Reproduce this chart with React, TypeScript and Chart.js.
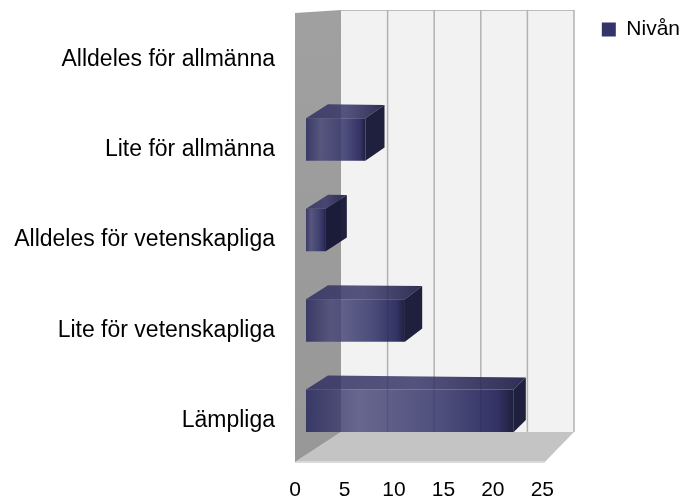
import React, { useEffect, useRef } from "react";
import { Chart, registerables } from "chart.js";

Chart.register(...registerables);

// ---- data ----
const categories = [
  "Alldeles för allmänna",
  "Lite för allmänna",
  "Alldeles för vetenskapliga",
  "Lite för vetenskapliga",
  "Lämpliga",
];
const nivanValues = [0, 6, 2, 10, 21];
const tickValues = [0, 5, 10, 15, 20, 25];
const seriesName = "Nivån";

// ---- styling ----
const LEGEND_COLOR = "#34346a";
const FONT = "'Liberation Sans', Arial, sans-serif";
const BAR_SHIFT_X = 11;
const BAR_SHIFT_Y = -10;

const depthOffset = (px: number, x0: number) => ({
  dx: 22 - 0.048 * (px - x0),
  dy: -14 + 0.0096 * (px - x0),
});

const wallsPlugin = {
  id: "walls3d",
  beforeDraw(chart: any) {
    const { ctx, chartArea: a, scales } = chart;
    const x = scales.x;
    if (!x) return;
    const f0 = x.getPixelForValue(0);
    const fMax = x.getPixelForValue(tickValues[tickValues.length - 1]);
    const backX = (v: number) => f0 + 46 + (x.getPixelForValue(v) - f0) * 0.942;
    const backTop = a.top - 4;
    const floorBack = a.bottom - 34;
    const floorFront = a.bottom - 4;
    const b0 = backX(0);
    const bMax = backX(tickValues[tickValues.length - 1]);
    const frontRight = f0 + (fMax - f0) * 1.01;

    ctx.save();
    // back wall
    ctx.fillStyle = "#f2f2f2";
    ctx.fillRect(b0, backTop, bMax - b0, floorBack - backTop);
    ctx.strokeStyle = "#bcbcbc";
    ctx.lineWidth = 1;
    ctx.beginPath();
    ctx.moveTo(b0, backTop + 0.5);
    ctx.lineTo(bMax, backTop + 0.5);
    ctx.stroke();
    // gridlines on back wall
    ctx.strokeStyle = "#b2b2b2";
    ctx.lineWidth = 1.5;
    tickValues.forEach((v) => {
      if (v === 0) return;
      const bx = backX(v);
      ctx.beginPath();
      ctx.moveTo(bx, backTop);
      ctx.lineTo(bx, floorBack);
      ctx.stroke();
    });
    // floor
    ctx.fillStyle = "#c4c4c4";
    ctx.beginPath();
    ctx.moveTo(b0, floorBack);
    ctx.lineTo(bMax, floorBack);
    ctx.lineTo(frontRight, floorFront);
    ctx.lineTo(f0, floorFront);
    ctx.closePath();
    ctx.fill();
    ctx.strokeStyle = "#dadada";
    ctx.lineWidth = 2;
    ctx.beginPath();
    ctx.moveTo(f0, floorFront);
    ctx.lineTo(frontRight, floorFront);
    ctx.stroke();
    // side wall
    const g = ctx.createLinearGradient(0, backTop, 0, floorFront);
    g.addColorStop(0, "#a0a0a0");
    g.addColorStop(1, "#979797");
    ctx.fillStyle = g;
    ctx.beginPath();
    ctx.moveTo(f0, backTop + 3);
    ctx.lineTo(b0, backTop);
    ctx.lineTo(b0, floorBack);
    ctx.lineTo(f0, floorFront);
    ctx.closePath();
    ctx.fill();
    ctx.restore();
  },
  beforeDatasetsDraw(chart: any) {
    chart.ctx.save();
    chart.ctx.translate(BAR_SHIFT_X, BAR_SHIFT_Y);
  },
  afterDatasetsDraw(chart: any) {
    const ctx = chart.ctx;
    const meta = chart.getDatasetMeta(0);
    meta.data.forEach((bar: any) => {
      const { x: x1, y, base: x0, height } = bar.getProps(["x", "y", "base", "height"], true);
      if (x1 - x0 < 0.5) return;
      const yT = y - height / 2;
      const yB = y + height / 2;
      const o0 = depthOffset(x0, x0);
      const o1 = depthOffset(x1, x0);
      // top face
      const tg = ctx.createLinearGradient(x0, 0, x1 + o1.dx, 0);
      tg.addColorStop(0, "rgba(48,48,98,0.85)");
      tg.addColorStop(0.5, "rgba(55,55,105,0.85)");
      tg.addColorStop(1, "rgba(30,30,72,0.92)");
      ctx.fillStyle = tg;
      ctx.beginPath();
      ctx.moveTo(x0, yT);
      ctx.lineTo(x1, yT);
      ctx.lineTo(x1 + o1.dx, yT + o1.dy);
      ctx.lineTo(x0 + o0.dx, yT + o0.dy);
      ctx.closePath();
      ctx.fill();
      // side face
      ctx.fillStyle = "rgba(22,22,54,0.96)";
      ctx.beginPath();
      ctx.moveTo(x1, yT);
      ctx.lineTo(x1 + o1.dx, yT + o1.dy);
      ctx.lineTo(x1 + o1.dx, yB + o1.dy);
      ctx.lineTo(x1, yB);
      ctx.closePath();
      ctx.fill();
    });
    ctx.restore();
  },
};

export default function App() {
  const canvasRef = useRef<HTMLCanvasElement | null>(null);

  useEffect(() => {
    const canvas = canvasRef.current;
    if (!canvas) return;
    const chart = new Chart(canvas, {
      type: "bar",
      data: {
        labels: categories,
        datasets: [
          {
            label: seriesName,
            data: nivanValues,
            borderWidth: 0,
            barPercentage: 0.47,
            categoryPercentage: 1,
            backgroundColor: (c: any) => {
              if (c.type !== "data") return LEGEND_COLOR;
              const ch = c.chart;
              const xs = ch.scales && ch.scales.x;
              if (!xs) return LEGEND_COLOR;
              const x0 = xs.getPixelForValue(0);
              const x1 = xs.getPixelForValue(c.raw);
              if (!isFinite(x0) || !isFinite(x1) || x1 - x0 < 1) return LEGEND_COLOR;
              const g = ch.ctx.createLinearGradient(x0, 0, x1, 0);
              g.addColorStop(0, "rgba(40,40,92,0.85)");
              g.addColorStop(0.25, "rgba(68,68,118,0.8)");
              g.addColorStop(0.65, "rgba(50,50,104,0.85)");
              g.addColorStop(0.92, "rgba(34,34,88,0.92)");
              g.addColorStop(1, "rgba(20,20,52,0.95)");
              return g;
            },
          },
        ],
      },
      options: {
        indexAxis: "y",
        responsive: false,
        animation: false,
        layout: { padding: { top: 9, right: 0, bottom: 0, left: 0 } },
        plugins: {
          legend: {
            position: "right",
            align: "start",
            labels: {
              boxWidth: 14,
              boxHeight: 14,
              padding: 10,
              color: "#000",
              font: { family: FONT, size: 21 },
            },
          },
          tooltip: { enabled: false },
        },
        scales: {
          x: {
            type: "linear",
            position: "bottom",
            min: 0,
            max: 30,
            grid: { display: false, drawTicks: false },
            border: { display: false },
            afterBuildTicks: (s: any) => {
              s.ticks = tickValues.map((v) => ({ value: v }));
            },
            afterFit: (s: any) => {
              s.height = 35;
              s.paddingTop = 0;
              s.paddingBottom = 0;
            },
            ticks: {
              autoSkip: false,
              maxRotation: 0,
              padding: 12,
              color: "#000",
              font: { family: FONT, size: 21 },
            },
          },
          y: {
            type: "category",
            grid: { display: false, drawTicks: false },
            border: { display: false },
            afterFit: (s: any) => {
              s.width = 295;
              s.paddingTop = 14;
              s.paddingBottom = 0;
            },
            ticks: {
              padding: 20,
              color: "#000",
              font: { family: FONT, size: 23 },
            },
          },
        },
      },
      plugins: [wallsPlugin],
    } as any);
    return () => chart.destroy();
  }, []);

  return (
    <div style={{ position: "absolute", left: 0, top: 0, width: 690, height: 501, background: "#fff" }}>
      <canvas ref={canvasRef} width={690} height={501} style={{ display: "block" }} />
    </div>
  );
}
